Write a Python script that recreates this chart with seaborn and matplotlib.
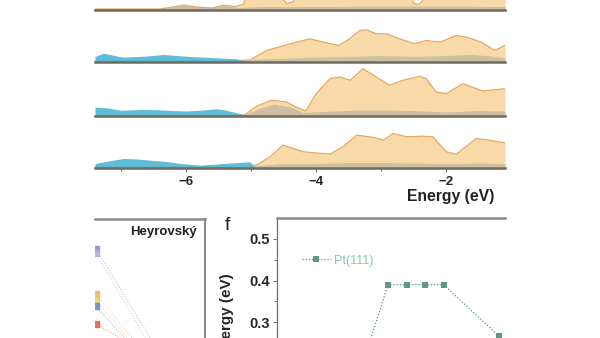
import numpy as np
import pandas as pd
import matplotlib
matplotlib.use("Agg")
import matplotlib.pyplot as plt
import seaborn as sns

sns.set_theme(style="white")
plt.rcParams['font.family'] = ['Liberation Sans', 'DejaVu Sans']

# ---------------- data ----------------
# DOS panels (energy in eV, density in arbitrary units)
p1_orange_e = [-7.4, -6.4, -6.2, -6.04, -5.85, -5.6, -5.43, -5.25, -5.12, -5.0, -4.8, -4.62, -4.55, -4.45, -4.35, -4.28, -4.2, -4.0, -3.5, -3.0, -2.6, -2.55, -2.5, -2.42, -2.36, -2.3, -1.8, -1.1]
p1_orange_v = [0.5, 0.5, 2.5, 4.3, 2.5, 1.5, 4.3, 3.0, 5.0, 25, 40, 30, 12, 6, 8, 20, 35, 45, 45, 45, 40, 15, 6, 5.3, 9, 40, 45, 45]
p1_gray_e = [-7.4, -6.4, -6.04, -5.7, -5.43, -5.2, -4.8, -4.0, -3.0, -2.0, -1.1]
p1_gray_v = [1, 1, 4, 1.5, 4, 2, 3, 3, 3.5, 3.5, 3]
p1_blue_e = [-7.4, -6.5, -5.5, -5.1]
p1_blue_v = [1, 1, 0.5, 0]

p2_orange_e = [-7.4, -5.3, -5.02, -4.76, -4.40, -4.10, -3.89, -3.66, -3.51, -3.33, -3.23, -3.08, -2.92, -2.72, -2.49, -2.31, -2.10, -1.85, -1.69, -1.46, -1.26, -1.1]
p2_orange_v = [0.5, 0.5, 1.5, 11, 17.7, 22.7, 19.3, 16, 21.7, 31, 31.7, 27.7, 27.7, 22.7, 17.7, 21, 19.3, 26, 24.3, 19.3, 11, 16]
p2_gray_e = [-7.4, -6.5, -5.5, -5.0, -4.6, -4.0, -3.5, -3.0, -2.5, -2.0, -1.6, -1.4, -1.1]
p2_gray_v = [1, 1, 1.5, 2, 3, 4.5, 5, 6, 5, 6, 7, 6, 4]
p2_blue_e = [-7.4, -7.27, -7.1, -6.97, -6.6, -6.35, -5.94, -5.53, -5.22, -5.05]
p2_blue_v = [5, 8.3, 6, 4.3, 5.5, 7, 5, 3.7, 2.7, 0]

p3_orange_e = [-7.4, -5.3, -5.1, -4.92, -4.69, -4.46, -4.31, -4.16, -4.0, -3.79, -3.64, -3.48, -3.28, -3.08, -2.87, -2.67, -2.41, -2.31, -2.16, -2.0, -1.75, -1.44, -1.1]
p3_orange_v = [0.5, 0.5, 1, 9.7, 15.7, 14, 9, 5, 22.3, 37.3, 39, 35.7, 47.3, 39, 30.7, 35.7, 39.7, 37.3, 24, 22.3, 32.3, 25, 27.3]
p3_gray_e = [-7.4, -5.5, -5.1, -4.85, -4.65, -4.4, -4.2, -3.9, -3.4, -3.0, -2.5, -2.0, -1.5, -1.1]
p3_gray_v = [1, 1, 1.5, 8, 12, 9, 3.5, 4.5, 6, 6, 5.5, 4, 5.5, 5]
p3_blue_e = [-7.4, -7.2, -7.01, -6.7, -6.45, -6.2, -5.99, -5.75, -5.53, -5.4, -5.27, -5.05]
p3_blue_v = [9, 8, 5.7, 6.5, 6.3, 5.5, 5, 6, 7.3, 6, 4, 0.5]

p4_orange_e = [-7.4, -5.1, -4.92, -4.71, -4.51, -4.35, -4.20, -3.79, -3.59, -3.38, -3.18, -3.05, -2.97, -2.82, -2.61, -2.36, -2.21, -2.0, -1.85, -1.54, -1.34, -1.1]
p4_orange_v = [0.5, 0.5, 2.3, 10.7, 22.3, 19, 15.7, 13.3, 20.7, 32.3, 30.7, 29, 27.3, 34, 30.7, 31.3, 30.7, 15.7, 13.3, 29, 27.3, 24.7]
p4_gray_e = [-7.4, -5.0, -4.8, -4.5, -4.0, -3.5, -3.0, -2.5, -2.0, -1.5, -1.1]
p4_gray_v = [1, 1.5, 2.5, 4, 4, 5, 5, 4.5, 4, 4.5, 4]
p4_blue_e = [-7.4, -7.2, -6.96, -6.75, -6.55, -6.3, -6.09, -5.79, -5.43, -5.2, -5.02, -4.95]
p4_blue_v = [4, 6.5, 9, 8.5, 7.3, 6, 4, 2.3, 4, 5, 5.7, 0.5]

dos_xticks = [-6, -4, -2]
dos_xlabel = "Energy (eV)"

# Heyrovský panel (dotted lines from start value to end value)
hey_x = [0, 1]
hey_series = {
    "a": [0.478, 0.044],
    "b": [0.468, 0.013],
    "c": [0.369, 0.048],
    "d": [0.355, 0.032],
    "e": [0.340, 0.040],
    "g": [0.297, 0.139],
}
hey_colors = {"a": "#9488c8", "b": "#b6aed8", "c": "#f0b060", "d": "#e8d070",
              "e": "#6f86c8", "g": "#d8604a"}
hey_title = "Heyrovský"

# panel f
f_x = [5, 6, 7, 8, 9, 12]
f_y = [0.25, 0.39, 0.39, 0.39, 0.39, 0.266]
f_label = "Pt(111)"
f_yticks = [0.3, 0.4, 0.5]
f_ylabel = "Energy (eV)"

# ---------------- figure ----------------
W, H = 600, 338
fig = plt.figure(figsize=(6.0, 3.38), dpi=100)


def px_axes(x0, y0, x1, y1):
    return fig.add_axes([x0 / W, 1 - y1 / H, (x1 - x0) / W, (y1 - y0) / H])


ORANGE_FILL = "#f9d9a8"
ORANGE_EDGE = "#e3a860"
GRAY_FILL = "#bdb7a2"
BLUE_FILL = "#4fb6d3"
SPINE = "#6f6b60"

panels = [
    (p1_orange_e, p1_orange_v, p1_gray_e, p1_gray_v, p1_blue_e, p1_blue_v, 9.5),
    (p2_orange_e, p2_orange_v, p2_gray_e, p2_gray_v, p2_blue_e, p2_blue_v, 61.5),
    (p3_orange_e, p3_orange_v, p3_gray_e, p3_gray_v, p3_blue_e, p3_blue_v, 116.0),
    (p4_orange_e, p4_orange_v, p4_gray_e, p4_gray_v, p4_blue_e, p4_blue_v, 167.5),
]

for i, (oe, ov, ge, gv, be, bv, base) in enumerate(panels):
    ax = px_axes(95, base - 52, 505, base)
    ax.patch.set_alpha(0)
    ax.fill_between(oe, ov, color=ORANGE_FILL, lw=0, zorder=1)
    df = pd.DataFrame({"E": oe, "D": ov})
    sns.lineplot(data=df, x="E", y="D", ax=ax, color=ORANGE_EDGE, lw=0.9,
                 sort=False, estimator=None, zorder=2)
    ax.fill_between(ge, gv, color=GRAY_FILL, alpha=0.75, lw=0, zorder=3)
    ax.fill_between(be, bv, color=BLUE_FILL, alpha=0.9, lw=0, zorder=4)
    ax.set_xlim(-7.4, -1.1)
    ax.set_ylim(0, 52)
    ax.set_xlabel("")
    ax.set_ylabel("")
    ax.set_yticks([])
    for s in ["top", "left", "right"]:
        ax.spines[s].set_visible(False)
    ax.spines["bottom"].set_color(SPINE)
    ax.spines["bottom"].set_linewidth(1.8)
    ax.spines["bottom"].set_zorder(6)
    if i == 3:
        ax.set_xticks(dos_xticks)
        ax.set_xticks([-7, -5, -3], minor=True)
        ax.tick_params(axis="x", which="both", direction="out", bottom=True,
                       length=3, width=0.8, color=SPINE, pad=3,
                       labelsize=9.5)
        ax.tick_params(axis="x", which="minor", length=2)
        for t in ax.get_xticklabels():
            t.set_fontweight("bold")
    else:
        ax.set_xticks([])

fig.text(494 / W, 1 - 196 / H, dos_xlabel, ha="right", va="center",
         fontsize=11.3, fontweight="bold", color="#222222")

# ---------------- Heyrovský panel ----------------
axh = px_axes(95, 219, 205, 446.5)
for key, vals in hey_series.items():
    dfh = pd.DataFrame({"x": hey_x, "y": vals})
    sns.lineplot(data=dfh, x="x", y="y", ax=axh, color=hey_colors[key],
                 lw=0.8, linestyle=(0, (1, 1.5)), alpha=0.55,
                 estimator=None, sort=False)
    axh.plot(hey_x[:1], vals[:1], marker="s", ms=5, color=hey_colors[key],
             lw=0, alpha=0.85, clip_on=True)
axh.set_xlim(-0.009, 1.0)
axh.set_ylim(0, 0.55)
axh.set_xticks([])
axh.set_yticks([])
axh.set_xlabel("")
axh.set_ylabel("")
axh.spines["left"].set_visible(False)
axh.spines["bottom"].set_visible(False)
axh.spines["top"].set_color("#8a8a8a")
axh.spines["top"].set_linewidth(1.8)
axh.spines["right"].set_color("#8a8a8a")
axh.spines["right"].set_linewidth(1.5)
fig.text(197 / W, 1 - 232 / H, hey_title, ha="right", va="center",
         fontsize=9.5, fontweight="bold", color="#222222")

# ---------------- panel f ----------------
axf = px_axes(277, 218.25, 505, 446.5)
dff = pd.DataFrame({"x": f_x, "y": f_y, "s": [f_label] * len(f_x)})
sns.lineplot(data=dff, x="x", y="y", hue="s", ax=axf,
             palette=["#5f9985"], lw=0.9, linestyle=(0, (1, 1.5)),
             marker="s", markersize=5, markeredgewidth=0,
             estimator=None, sort=False)
axf.set_xlim(0, 228 / 18.5)
axf.set_ylim(0, 0.55)
axf.set_yticks(f_yticks)
axf.set_yticks([0.35, 0.45], minor=True)
axf.set_xticks([])
axf.set_xlabel("")
axf.set_ylabel(f_ylabel, fontsize=11, fontweight="bold")
axf.yaxis.set_label_coords(-0.19, 0.574, transform=axf.transAxes)
axf.tick_params(axis="y", which="both", direction="out", left=True,
                length=3, width=0.8, color="#777777", pad=2, labelsize=10.5)
axf.tick_params(axis="y", which="minor", length=2)
for t in axf.get_yticklabels():
    t.set_fontweight("bold")
axf.spines["right"].set_visible(False)
axf.spines["bottom"].set_visible(False)
axf.spines["top"].set_color("#8a8a8a")
axf.spines["top"].set_linewidth(1.8)
axf.spines["left"].set_color("#777777")
axf.spines["left"].set_linewidth(1.0)
leg = axf.legend(loc="center left", bbox_to_anchor=(0.11, 0.814),
                 frameon=False, fontsize=9, handlelength=2.3,
                 handletextpad=0.25, borderpad=0, borderaxespad=0)
for t in leg.get_texts():
    t.set_color("#86c9a5")

fig.text(227 / W, 1 - 225 / H, "f", ha="center", va="center", fontsize=14,
         color="#222222")

fig.savefig("out.png", dpi=100)
